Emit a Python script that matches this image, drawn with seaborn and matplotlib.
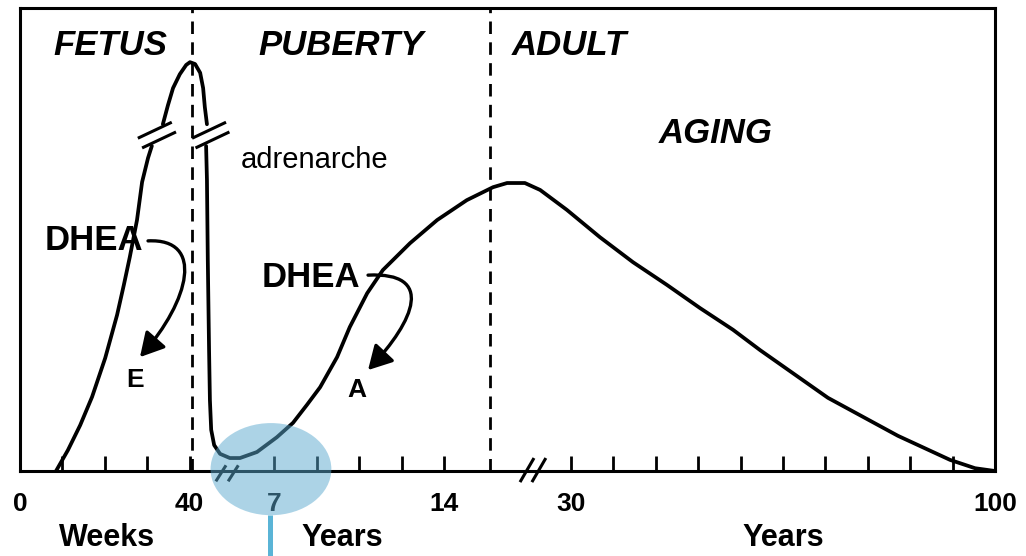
import numpy as np
import pandas as pd
import matplotlib
matplotlib.use("Agg")
import matplotlib.pyplot as plt
import seaborn as sns
from matplotlib.patches import FancyArrowPatch, Ellipse
from matplotlib.path import Path

# ---------------- data (x in tick units 0..23, y = relative DHEA level 0..100) -------------
fetal_low_x = [0.85, 1.13, 1.42, 1.70, 2.01, 2.29, 2.45, 2.59, 2.76, 2.88, 3.02, 3.11]
fetal_low_y = [0.0, 4.5, 9.9, 16.0, 24.4, 33.7, 40.2, 46.2, 54.2, 62.4, 67.6, 70.2]

fetal_peak_x = [3.37, 3.49, 3.61, 3.77, 3.92, 4.01, 4.13, 4.25, 4.32, 4.36, 4.41]
fetal_peak_y = [74.9, 79.0, 82.7, 85.7, 87.7, 88.3, 87.9, 86.0, 82.7, 78.6, 74.9]

life_x = [4.39, 4.41, 4.43, 4.46, 4.48, 4.51, 4.58, 4.72, 4.95, 5.19, 5.59, 6.06, 6.44,
          6.77, 7.08, 7.48, 7.78, 8.19, 8.56, 9.20, 9.84, 10.54, 11.16, 11.49, 11.91,
          12.27, 12.90, 13.68, 14.46, 15.26, 16.04, 16.82, 17.46, 19.06, 20.71, 21.94,
          22.53, 23.0]
life_y = [70.2, 62.9, 45.6, 26.1, 15.3, 8.9, 5.6, 3.7, 2.8, 2.8, 4.1, 7.3, 10.4,
          14.3, 18.1, 24.6, 31.1, 38.4, 43.4, 49.2, 54.2, 58.5, 61.3, 62.2, 62.2,
          60.7, 56.4, 50.5, 45.1, 40.2, 35.2, 30.5, 26.1, 15.8, 7.6, 2.4,
          0.6, 0.0]

tick_label_pos = [0, 4, 6, 10, 13, 23]
tick_labels = ["0", "40", "7", "14", "30", "100"]
minor_tick_pos = [1, 2, 3, 7, 8, 9, 14, 15, 16, 17, 18, 19, 20, 21, 22]
phase_lines = [4.05, 11.08]

unit_labels = ["Weeks", "Years", "Years"]
unit_label_x = [2.05, 7.60, 18.0]

phase_names = ["FETUS", "PUBERTY", "ADULT", "AGING"]
phase_x = [2.12, 7.57, 12.95, 16.42]
phase_y = [92.0, 92.0, 91.8, 73.0]

# ---------------- figure --------------------------------------------------------------------
sns.set_theme(style="white")
plt.rcParams["font.family"] = ["Liberation Sans", "DejaVu Sans"]
plt.rcParams["text.color"] = "black"
plt.rcParams["xtick.color"] = "black"
plt.rcParams["axes.labelcolor"] = "black"

fig = plt.figure(figsize=(10.26, 5.56), dpi=100)
ax = fig.add_axes([20 / 1026, 85 / 556, 975 / 1026, 463 / 556])
ax.set_xlim(0, 23)
ax.set_ylim(0, 100)

LW = 2.7
for xs, ys in [(fetal_low_x, fetal_low_y), (fetal_peak_x, fetal_peak_y), (life_x, life_y)]:
    df = pd.DataFrame({"x": xs, "y": ys})
    sns.lineplot(data=df, x="x", y="y", sort=False, estimator=None, color="black",
                 linewidth=LW, ax=ax, solid_capstyle="round", solid_joinstyle="round")

for xp in phase_lines:
    ax.axvline(xp, color="black", linewidth=2.0, linestyle=(0, (4.5, 3)), zorder=1)

# break marks
def slash(cx, cy, dx, dy):
    ax.plot([cx - dx, cx + dx], [cy - dy, cy + dy], color="black", linewidth=2.2,
            clip_on=False, solid_capstyle="butt")

for cx, cy in [(3.18, 73.6), (3.28, 71.5), (4.46, 73.6), (4.54, 71.5)]:
    slash(cx, cy, 0.40, 1.73)
for cx in [4.74, 5.03]:
    slash(cx, -0.5, 0.12, 1.73)
for cx in [11.96, 12.24]:
    slash(cx, 0.2, 0.165, 2.6)

# spines / ticks
for s in ax.spines.values():
    s.set_color("black")
    s.set_linewidth(2.2)
ax.set_yticks([])
ax.set_xticks(tick_label_pos)
ax.set_xticklabels(tick_labels, fontsize=19, fontweight="bold", color="black")
ax.set_xticks(minor_tick_pos, minor=True)
ax.tick_params(axis="x", which="both", direction="in", length=11, width=2.0,
               color="black", pad=15, bottom=True)
ax.set_xlabel("")
ax.set_ylabel("")

for lab, xl in zip(unit_labels, unit_label_x):
    ax.text(xl, -14.5, lab, ha="center", va="center", fontsize=22, fontweight="bold",
            clip_on=False, color="black")

for name, xn, yn in zip(phase_names, phase_x, phase_y):
    ax.text(xn, yn, name, ha="center", va="center", fontsize=25, fontweight="bold",
            fontstyle="italic", color="black")

ax.text(6.96, 67.2, "adrenarche", ha="center", va="center", fontsize=21, color="black")
ax.text(1.75, 49.7, "DHEA", ha="center", va="center", fontsize=25, fontweight="bold", color="black")
ax.text(6.86, 41.7, "DHEA", ha="center", va="center", fontsize=25, fontweight="bold", color="black")
ax.text(2.71, 19.7, "E", ha="center", va="center", fontsize=19, fontweight="bold", color="black")
ax.text(7.95, 17.5, "A", ha="center", va="center", fontsize=19, fontweight="bold", color="black")

# conversion arrows
def curved_arrow(p0, p1, p2, p3):
    path = Path([p0, p1, p2, p3], [Path.MOVETO, Path.CURVE4, Path.CURVE4, Path.CURVE4])
    arr = FancyArrowPatch(path=path, arrowstyle="-|>,head_length=9,head_width=5",
                          color="black", linewidth=2.4, mutation_scale=1.6)
    ax.add_patch(arr)

curved_arrow((3.02, 49.7), (4.36, 50.3), (4.01, 36.9), (2.83, 24.6))
curved_arrow((8.21, 42.3), (9.79, 43.0), (9.32, 32.6), (8.21, 21.8))

# highlight overlay
ell = Ellipse((5.92, 0.4), 2.85, 19.9, facecolor="#5aa9cf", edgecolor="none", alpha=0.5,
              zorder=10, clip_on=False)
ax.add_patch(ell)
ax.plot([5.90, 5.90], [-9.5, -20], color="#5ab4d6", linewidth=3.6, clip_on=False,
        zorder=10, solid_capstyle="butt")

fig.savefig("out.png", dpi=100)
